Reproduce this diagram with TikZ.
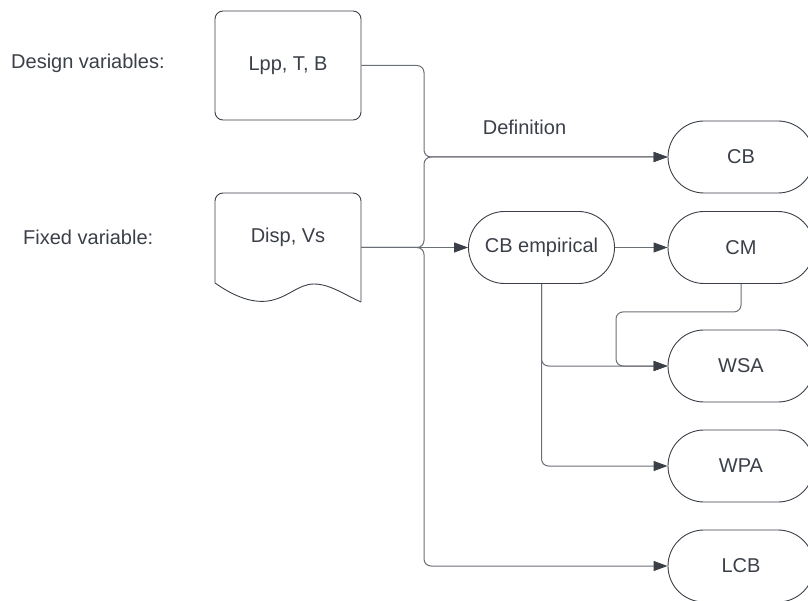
\documentclass[tikz,border=0pt]{standalone}
\usepackage{fontspec}
\setmainfont{Liberation Sans}
\usetikzlibrary{arrows.meta}
\definecolor{ink}{HTML}{3A3F48}
\definecolor{wire}{HTML}{6A6E75}
\begin{document}
\begin{tikzpicture}[x=1pt,y=-1pt,
  every node/.style={text=ink,font=\fontsize{20}{24}\selectfont},
  box/.style={draw=ink,line width=0.9pt,rounded corners=8pt,minimum width=146pt,minimum height=109pt,inner sep=0pt},
  term/.style={draw=ink,line width=0.9pt,rounded corners=36pt,minimum width=146pt,minimum height=72pt,inner sep=0pt},
  wire/.style={draw=wire,line width=1pt,rounded corners=7pt},
  flow/.style={wire,-{Triangle[length=14pt,width=10pt,color=ink]}},
  caption/.style={anchor=west,inner sep=0pt}]
\useasboundingbox (0,0) rectangle (808,601);

% side captions
\node[caption] (dv) at (11,63) {Design variables:};
\node[caption] (fv) at (23,237) {Fixed variable:};

% inputs
\node[box] (lpp) at (288,65.5) {Lpp, T, B};
\node[minimum width=146pt,minimum height=109pt,inner sep=0pt] (disp) at (288,247.5) {};
\node at ([yshift=10.5pt]disp.center) {Disp, Vs};
% document outline with wavy bottom
\draw[draw=ink,line width=0.9pt,rounded corners=8pt]
  (361,302) -- (361,193) -- (215,193) -- (215,283);
\draw[draw=ink,line width=0.9pt]
  (215,283) .. controls (235,297) and (252,303) .. (268,301)
  .. controls (288,298) and (298,284) .. (314,284)
  .. controls (330,284) and (345,295) .. (361,302);

% outputs
\node[term] (cb)  at (741,157)   {CB};
\node[term] (cbe) at (541.5,247.5) {CB empirical};
\node[term] (cm)  at (741,247.5) {CM};
\node[term] (wsa) at (741,366)   {WSA};
\node[term] (wpa) at (741,466)   {WPA};
\node[term] (lcb) at (741,566)   {LCB};

\node (def) at (524.5,127) {Definition};

% connectors
\draw[flow] (lpp.east) -| (424,157) -- (cb.west);
\draw[flow] (disp.east) -| (424,157) -- (cb.west);
\draw[flow] (disp.east) -| (424,566) -- (lcb.west);
\draw[flow] (disp.east) -- (cbe.west);
\draw[flow] (cbe.east) -- (cm.west);
\draw[flow] (cbe.south) |- (wsa.west);
\draw[flow] (cbe.south) |- (wpa.west);
\draw[flow] (cm.south) -- ++(0,28) -| (616,366) -- (wsa.west);
\end{tikzpicture}
\end{document}
